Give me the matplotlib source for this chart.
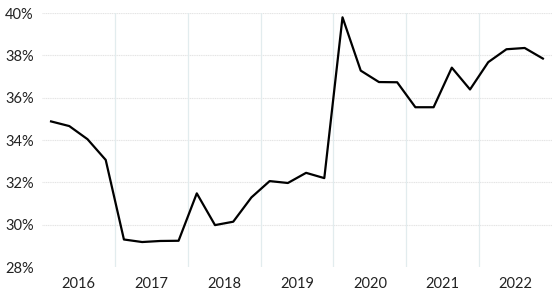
import matplotlib.pyplot as plt
from matplotlib.ticker import FuncFormatter

plt.rcParams['font.family'] = ['Lato', 'DejaVu Sans']

years = ['2016', '2017', '2018', '2019', '2020', '2021', '2022']
# quarterly share, %, 2016Q1 .. 2022Q4
share = [34.88, 34.66, 34.04, 33.06,
         29.30, 29.18, 29.23, 29.24,
         31.48, 29.98, 30.14, 31.29,
         32.06, 31.97, 32.45, 32.20,
         39.80, 37.28, 36.74, 36.73,
         35.55, 35.55, 37.42, 36.39,
         37.68, 38.29, 38.35, 37.85]

fig = plt.figure(figsize=(5.52, 2.97), dpi=100)
ax = fig.add_axes([0.076, 0.101, 0.924, 0.855])

q = list(range(len(share)))
ax.plot(q, share, color='black', linewidth=1.6, zorder=3)

ax.set_ylim(28, 40)
ax.set_xlim(-0.5, len(share) - 0.5)
ax.set_yticks(range(28, 41, 2))
ax.yaxis.set_major_formatter(FuncFormatter(lambda v, p: '%d%%' % v))

# horizontal grid (skip the bottom line)
for v in range(30, 41, 2):
    ax.axhline(v, color='#e4e4e4', linewidth=0.8, linestyle=(0, (1, 0.6)), zorder=1)
# year separators
for k in range(1, len(years)):
    ax.axvline(4 * k - 0.5, color='#e2ecee', linewidth=0.9, zorder=1)

ax.set_xticks([4 * k + 1.5 for k in range(len(years))])
ax.set_xticklabels(years)
ax.tick_params(axis='both', length=0, labelsize=10.5, colors='#222222')
ax.tick_params(axis='y', pad=6)
ax.tick_params(axis='x', pad=7)

for s in ax.spines.values():
    s.set_visible(False)

plt.savefig('out.png', dpi=100)
